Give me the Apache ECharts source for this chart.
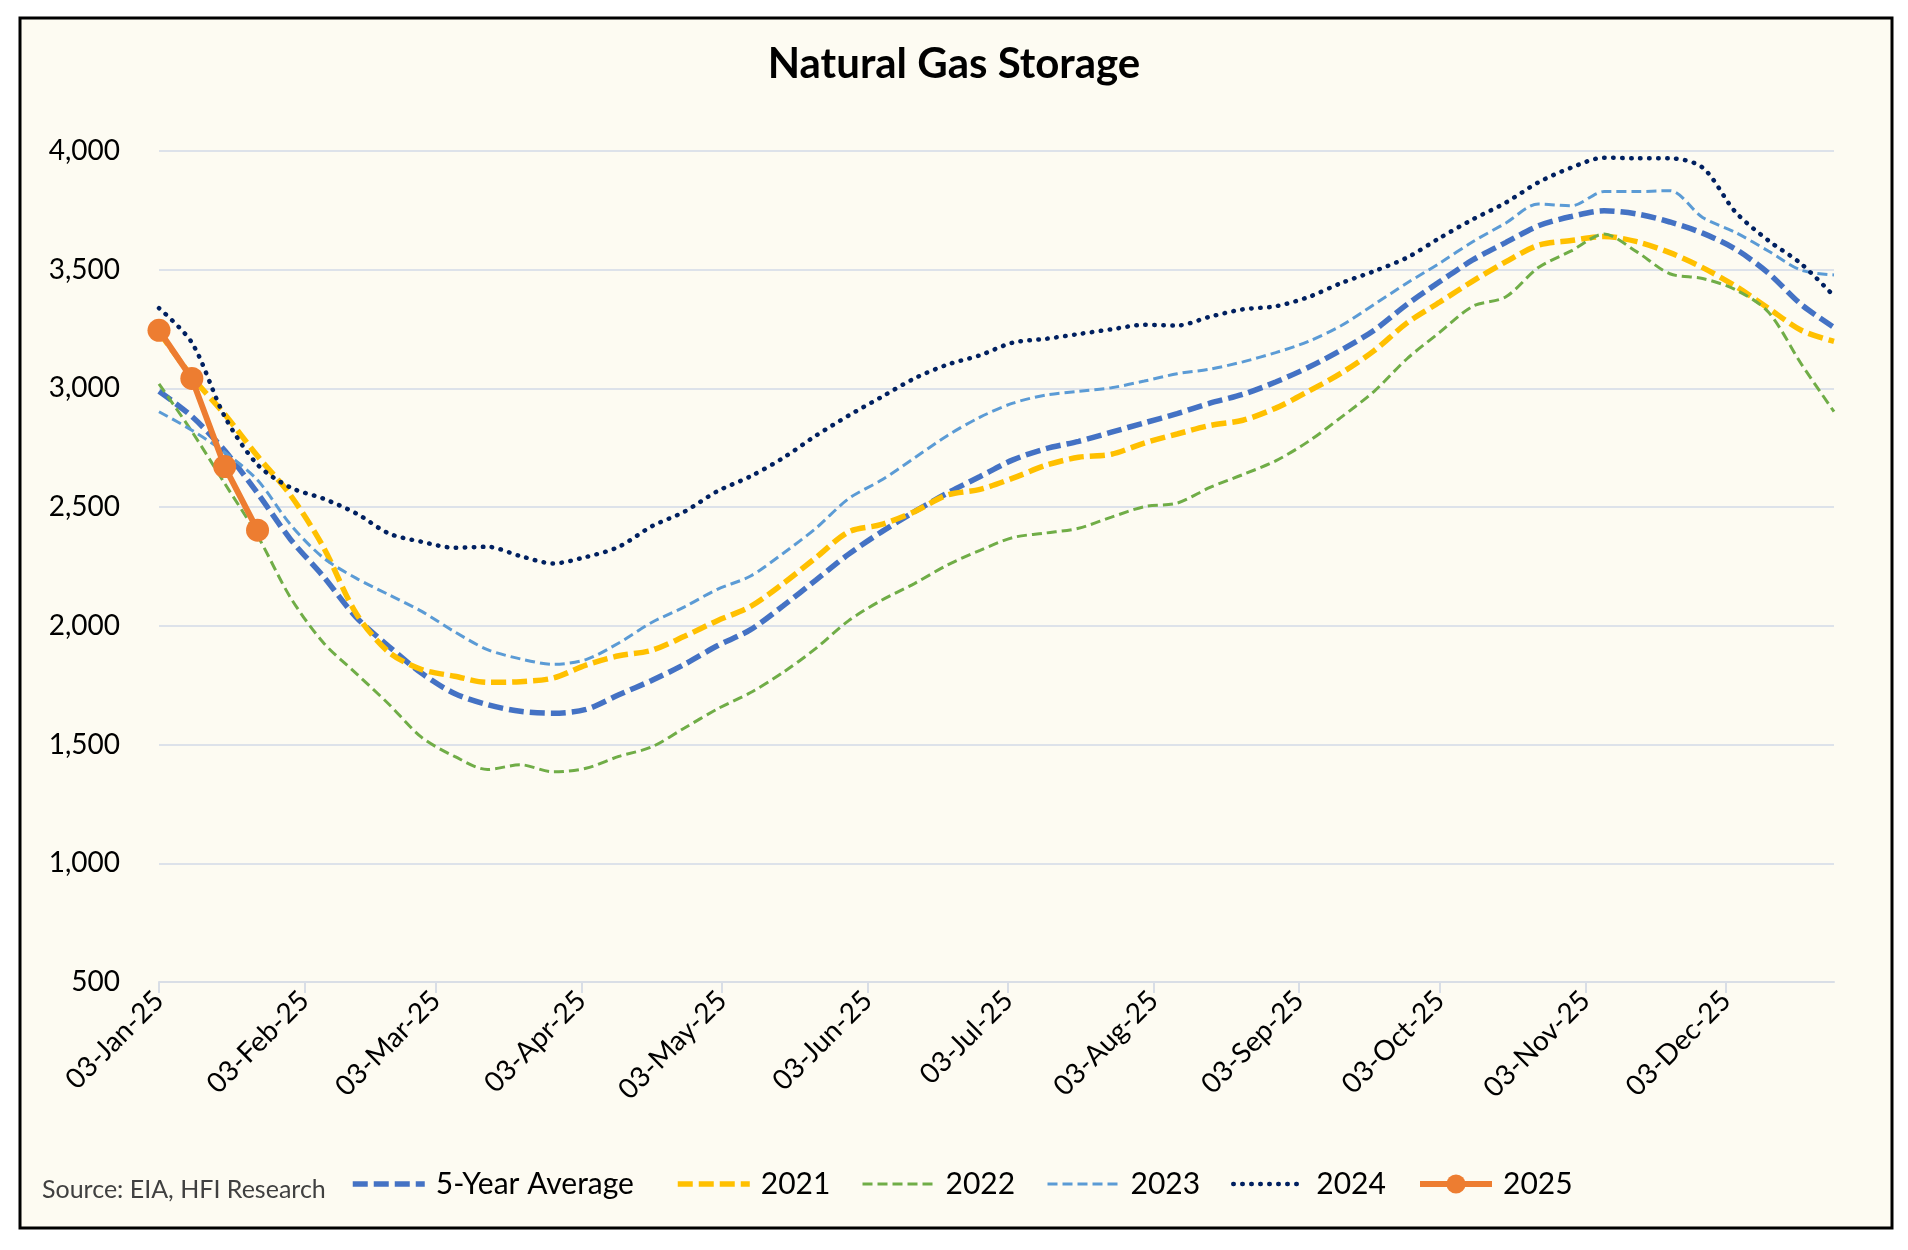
<!DOCTYPE html>
<html><head><meta charset="utf-8">
<script src="https://cdn.jsdelivr.net/npm/echarts@6/dist/echarts.min.js"></script>
<style>html,body{margin:0;padding:0;background:#ffffff;}#c{width:1908px;height:1250px;}</style>
</head><body><div id="c"></div>
<script>
// ---- data ----
const firstDate = '2025-01-03';
const lastDate = '2025-12-26';
const weekStep = 7;
const yMin = 500, yMax = 4000, yStep = 500;
const monthNames = ['Jan','Feb','Mar','Apr','May','Jun','Jul','Aug','Sep','Oct','Nov','Dec'];
const seriesNames = ['5-Year Average','2021','2022','2023','2024','2025'];

const fiveYearAvg = [2988,2882,2738,2559,2365,2209,2037,1913,1800,1715,1668,1640,1632,1648,1710,1770,1838,1916,1983,2084,2193,2302,2396,2481,2559,2629,2699,2746,2777,2816,2855,2894,2938,2975,3027,3089,3162,3245,3354,3450,3541,3614,3685,3724,3748,3735,3701,3654,3587,3486,3354,3257];
const y2021 = [3237,3050,2891,2715,2551,2333,2053,1889,1816,1788,1762,1765,1780,1835,1874,1897,1956,2022,2081,2178,2287,2396,2427,2481,2551,2575,2622,2676,2710,2723,2770,2808,2844,2866,2917,2988,3065,3159,3276,3364,3452,3533,3603,3623,3640,3618,3572,3509,3431,3338,3245,3198];
const y2022 = [3019,2819,2600,2380,2120,1930,1800,1670,1530,1450,1395,1415,1385,1400,1450,1490,1570,1650,1718,1804,1905,2022,2108,2178,2256,2318,2372,2391,2411,2458,2502,2517,2583,2637,2695,2777,2879,2988,3125,3237,3346,3385,3509,3579,3650,3575,3483,3463,3416,3322,3104,2902];
const y2023 = [2902,2824,2731,2614,2427,2287,2201,2131,2061,1975,1900,1861,1838,1858,1928,2014,2080,2154,2209,2305,2411,2536,2614,2707,2801,2879,2938,2972,2988,3003,3031,3062,3081,3112,3151,3198,3265,3354,3444,3528,3618,3696,3777,3769,3829,3829,3833,3720,3657,3579,3498,3478];
const y2024 = [3338,3193,2882,2679,2583,2536,2474,2389,2354,2329,2333,2294,2263,2290,2333,2419,2481,2567,2629,2707,2801,2886,2964,3042,3100,3140,3193,3209,3229,3249,3268,3265,3302,3333,3346,3385,3444,3494,3551,3634,3712,3782,3868,3930,3972,3969,3969,3930,3743,3623,3525,3389];
const y2025 = [3245,3042,2671,2403];

// ---- build daily categories ----
const days = [];
(function(){
  let d = new Date(firstDate + 'T00:00:00Z');
  const end = new Date(lastDate + 'T00:00:00Z');
  while (d <= end) { days.push(new Date(d)); d = new Date(d.getTime() + 86400000); }
})();
function fmt(d){
  const dd = String(d.getUTCDate()).padStart(2,'0');
  return dd + '-' + monthNames[d.getUTCMonth()] + '-' + String(d.getUTCFullYear()).slice(2);
}
const categories = days.map(fmt);
function spread(weekly){
  const arr = new Array(categories.length).fill(null);
  weekly.forEach((v,i)=>{ if (i*weekStep < arr.length) arr[i*weekStep] = v; });
  return arr;
}
const isMonthTick = (idx) => days[idx].getUTCDate() === 3;

const FONT = 'Lato';
const chart = echarts.init(document.getElementById('c'), null, {renderer:'canvas'});

const styles = [
  {color:'#4472C4', width:5.5, type:[15,6], cap:'butt'},
  {color:'#FFC000', width:5.5, type:[15,6], cap:'butt'},
  {color:'#70AD47', width:3, type:[10,5], cap:'butt'},
  {color:'#5B9BD5', width:3, type:[10,5], cap:'butt'},
  {color:'#002060', width:4.5, type:[0.5,8.5], cap:'round'},
];
const values = [fiveYearAvg, y2021, y2022, y2023, y2024];

const series = values.map((v,i)=>({
  name: seriesNames[i], type:'line', data: spread(v), connectNulls:true,
  smooth: 0.3, symbol:'none', showSymbol:false,
  lineStyle:{color:styles[i].color, width:styles[i].width, type:styles[i].type, cap: styles[i].cap},
  itemStyle:{color:styles[i].color}, z: 3+i
}));
series.push({
  name:'2025', type:'line', data: spread(y2025), connectNulls:true,
  symbol:'circle', symbolSize:23, showSymbol:true, showAllSymbol:true,
  lineStyle:{color:'#ED7D31', width:6}, itemStyle:{color:'#ED7D31'}, z:10
});

const legendLefts = [350, 675, 861, 1046, 1231, 1417];
const legends = seriesNames.map((n,i)=>{
  const lg = {
    data:[n], left: legendLefts[i], top: 1169, padding:0, itemWidth: 72, itemHeight: 24,
    textStyle:{fontFamily:FONT, fontSize:30, color:'#000', padding:[0,0,0,6]}, selectedMode:false
  };
  if (i < 5) {
    lg.itemStyle = {opacity:0};
    lg.lineStyle = {color:styles[i].color, width:styles[i].width, type:styles[i].type, cap:styles[i].cap};
  } else {
    lg.lineStyle = {color:'#ED7D31', width:6};
    lg.itemStyle = {color:'#ED7D31'};
  }
  return lg;
});

chart.setOption({
  backgroundColor:'#ffffff',
  animation:false,
  title:{text:'Natural Gas Storage', left:'center', top:38,
    textStyle:{fontFamily:FONT, fontWeight:'bold', fontSize:42, color:'#000'}},
  graphic:[
    {type:'rect', shape:{x:20, y:18, width:1872, height:1210}, style:{fill:'#FDFBF2', stroke:'#000', lineWidth:3}, z:-10, silent:true},
    {type:'text', left:42, top:1177, style:{text:'Source: EIA, HFI Research', font:'25px Lato', fill:'#404040'}, z:5}
  ],
  legend: legends,
  grid:{left:159, right:74, top:151, bottom:268, containLabel:false},
  xAxis:{type:'category', data:categories, boundaryGap:false,
    axisLine:{show:true, lineStyle:{color:'#D9DEE6', width:2}},
    axisTick:{show:true, interval:(i)=>isMonthTick(i), length:11, lineStyle:{color:'#D9DEE6', width:2}},
    axisLabel:{interval:(i)=>isMonthTick(i), rotate:45, margin:14, fontFamily:FONT, fontSize:28, color:'#000'},
    splitLine:{show:false}},
  yAxis:{type:'value', min:yMin, max:yMax, interval:yStep,
    axisLine:{show:false}, axisTick:{show:false},
    axisLabel:{fontFamily:FONT, fontSize:28, color:'#000', margin:39, formatter:(v)=>v.toLocaleString('en-US')},
    splitLine:{lineStyle:{color:'#DDE2EA', width:2}}},
  series: series
});
</script>
</body></html>
